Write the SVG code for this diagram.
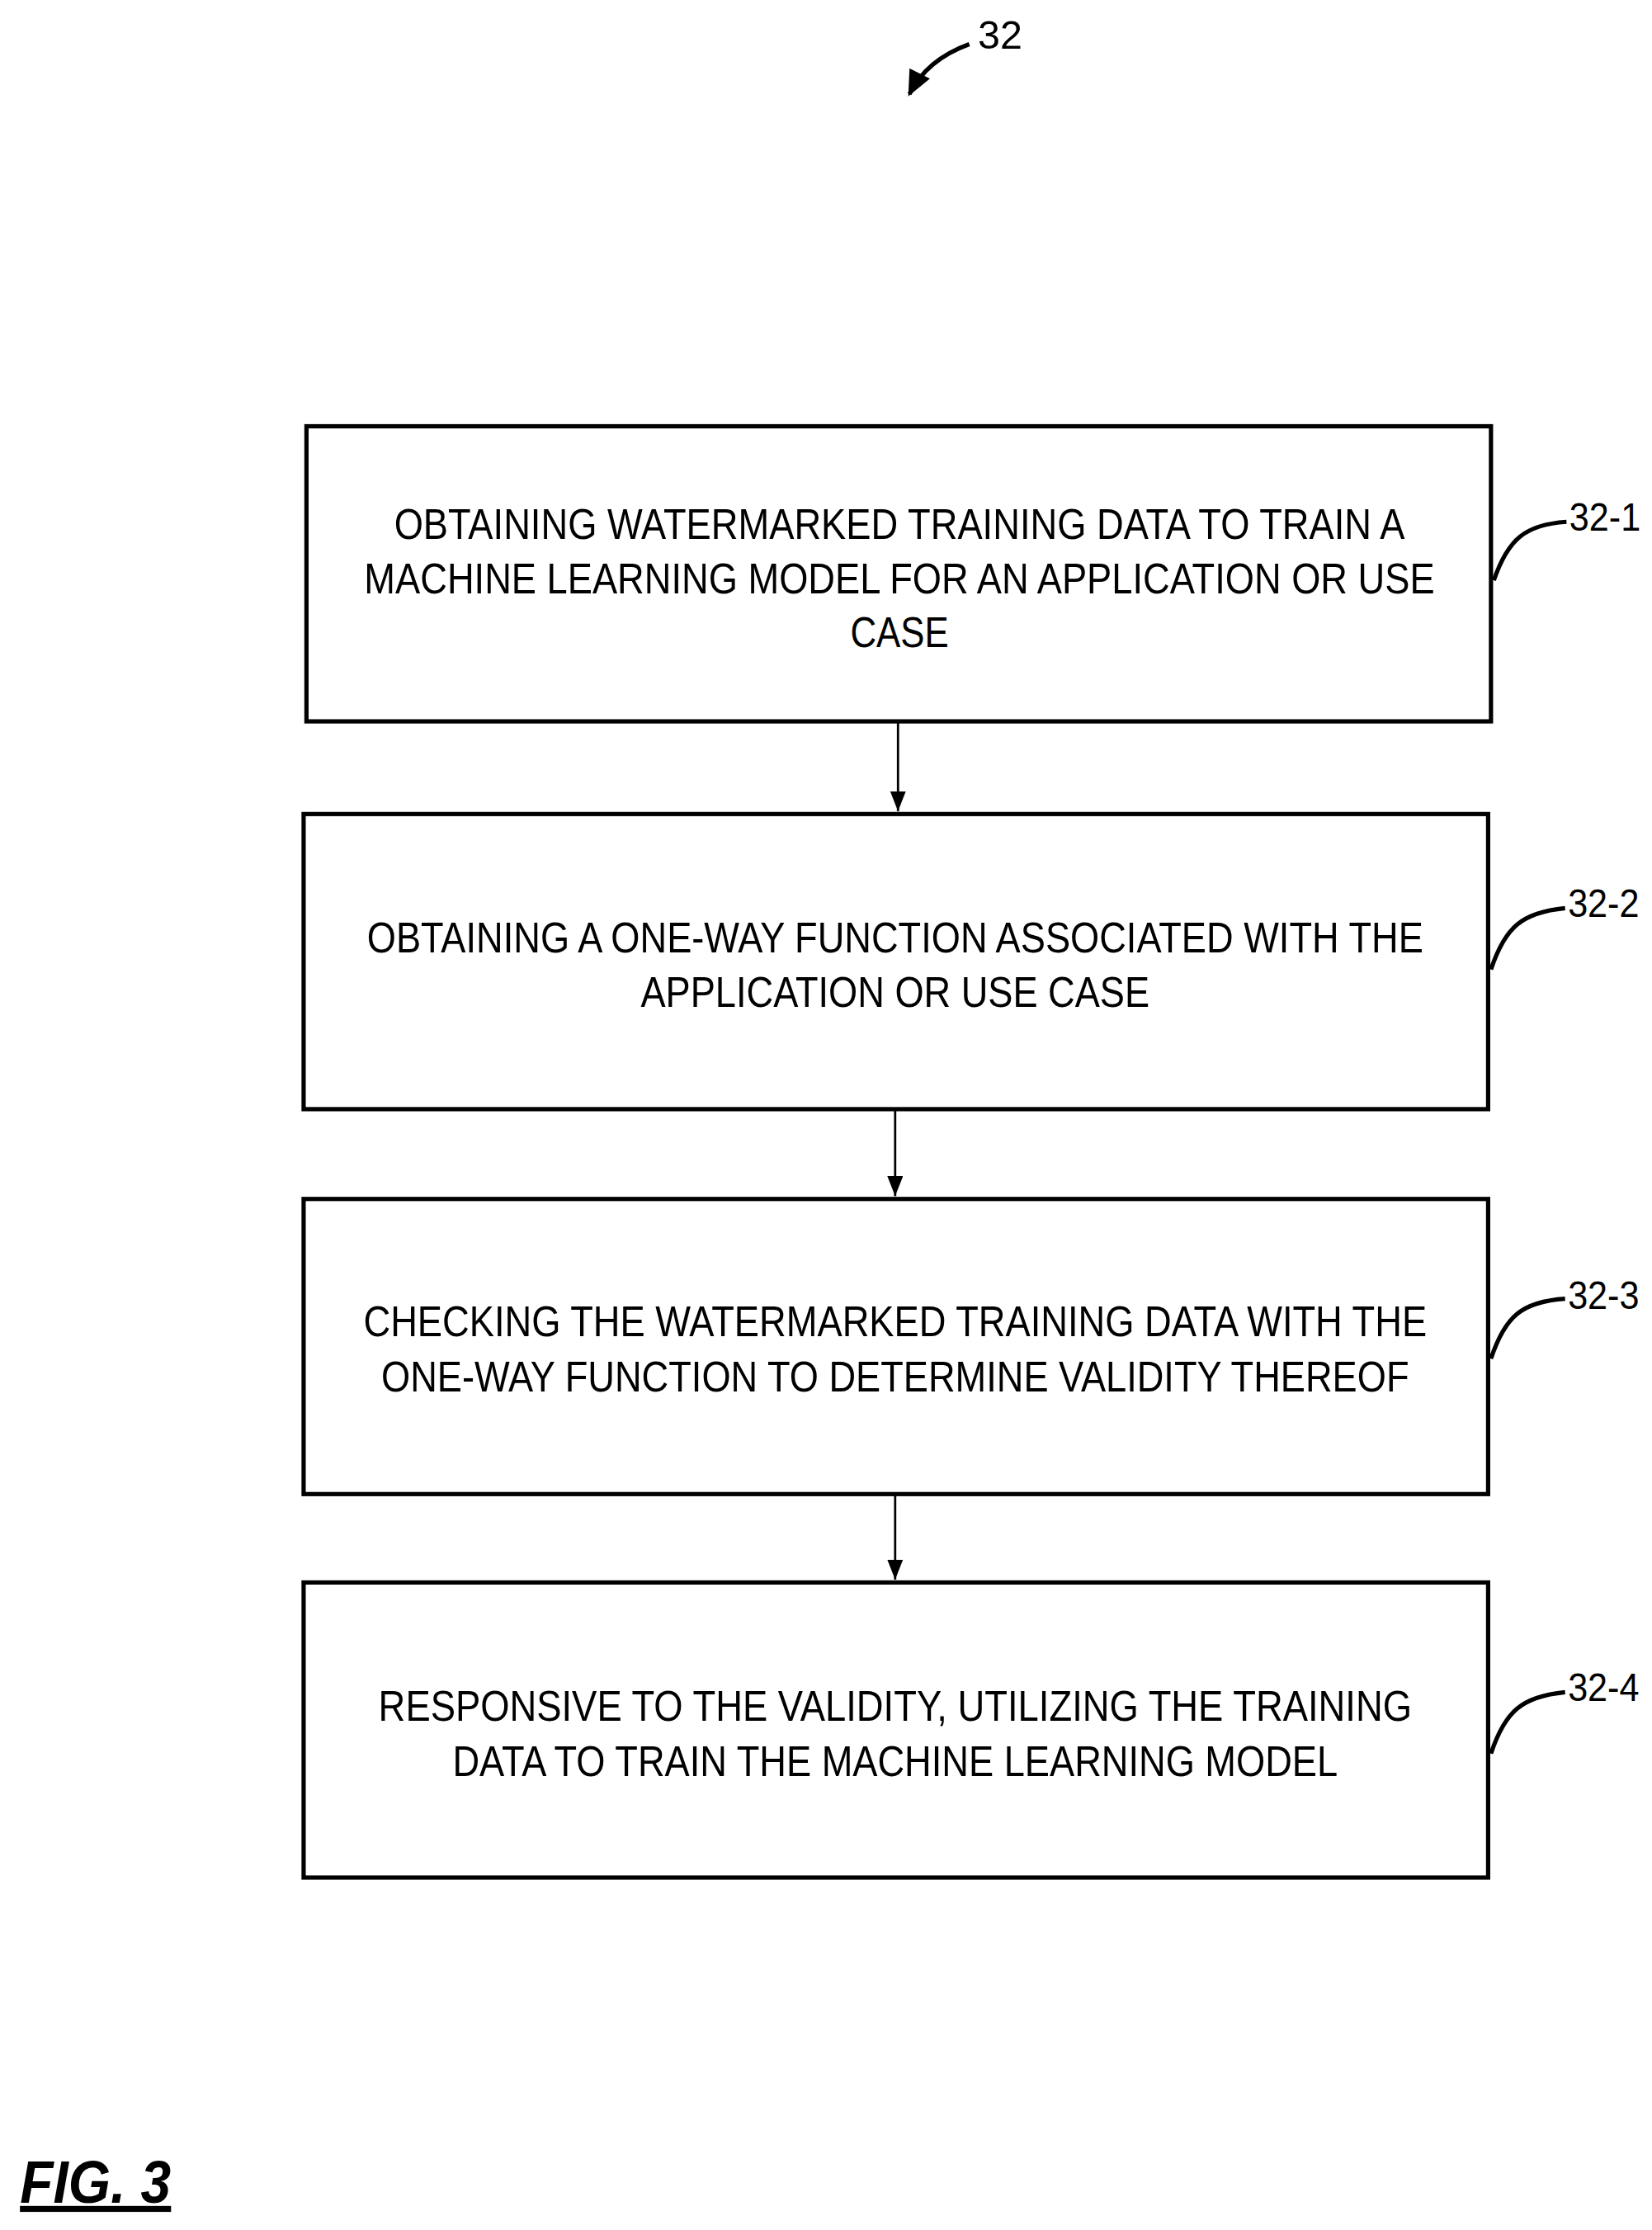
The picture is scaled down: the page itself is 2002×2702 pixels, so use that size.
<svg xmlns="http://www.w3.org/2000/svg" width="2002" height="2702" viewBox="0 0 2002 2702">
<style>
.box{fill:#fff;stroke:#000;stroke-width:3}
.t{font-family:"Liberation Sans",Arial,sans-serif;font-size:30px;fill:#000;text-anchor:middle}
.lbl{font-family:"Liberation Sans",Arial,sans-serif;font-size:28px;fill:#000}
.lead{fill:none;stroke:#000;stroke-width:3}
.conn{stroke:#000;stroke-width:1.6;fill:none}
</style>
<defs>
<marker id="ah" viewBox="0 0 10 10" refX="10" refY="5" markerWidth="14" markerHeight="11" markerUnits="userSpaceOnUse" orient="auto" preserveAspectRatio="none"><path d="M0,0L10,5L0,10z" fill="#000"/></marker>
<marker id="ah2" viewBox="0 0 10 10" refX="9" refY="5" markerWidth="18" markerHeight="16" markerUnits="userSpaceOnUse" orient="auto" preserveAspectRatio="none"><path d="M0,0L10,5L0,10z" fill="#000"/></marker>
</defs>
<rect width="2002" height="2702" fill="#fff"/>
<g transform="scale(1.7274)">
<g id="title">
<text class="lbl" x="686" y="34">32</text>
<path class="lead" d="M680,31 Q650,42 638,66" stroke-width="4" marker-end="url(#ah2)"/>
</g>
<g id="n1">
<rect class="box" x="215" y="299" width="831" height="207"/>
<text class="t" x="631" y="378" textLength="709" lengthAdjust="spacingAndGlyphs">OBTAINING WATERMARKED TRAINING DATA TO TRAIN A</text>
<text class="t" x="631" y="416" textLength="751" lengthAdjust="spacingAndGlyphs">MACHINE LEARNING MODEL FOR AN APPLICATION OR USE</text>
<text class="t" x="631" y="454" textLength="69" lengthAdjust="spacingAndGlyphs">CASE</text>
<text class="lbl" x="1101" y="372" textLength="50" lengthAdjust="spacingAndGlyphs">32-1</text>
<path class="lead" d="M1048,407 C1058,378 1070,368 1099,366"/>
</g>
<g id="n2">
<rect class="box" x="213" y="571" width="831" height="207"/>
<text class="t" x="628" y="668" textLength="741" lengthAdjust="spacingAndGlyphs">OBTAINING A ONE-WAY FUNCTION ASSOCIATED WITH THE</text>
<text class="t" x="628" y="706" textLength="357" lengthAdjust="spacingAndGlyphs">APPLICATION OR USE CASE</text>
<text class="lbl" x="1100" y="643" textLength="50" lengthAdjust="spacingAndGlyphs">32-2</text>
<path class="lead" d="M1046,680 C1056,650 1068,640 1098,637"/>
</g>
<g id="n3">
<rect class="box" x="213" y="841" width="831" height="207"/>
<text class="t" x="628" y="937" textLength="746" lengthAdjust="spacingAndGlyphs">CHECKING THE WATERMARKED TRAINING DATA WITH THE</text>
<text class="t" x="628" y="976" textLength="721" lengthAdjust="spacingAndGlyphs">ONE-WAY FUNCTION TO DETERMINE VALIDITY THEREOF</text>
<text class="lbl" x="1100" y="918" textLength="50" lengthAdjust="spacingAndGlyphs">32-3</text>
<path class="lead" d="M1046,953 C1056,923 1068,913 1098,911"/>
</g>
<g id="n4">
<rect class="box" x="213" y="1110" width="831" height="207"/>
<text class="t" x="628" y="1207" textLength="725" lengthAdjust="spacingAndGlyphs">RESPONSIVE TO THE VALIDITY, UTILIZING THE TRAINING</text>
<text class="t" x="628" y="1246" textLength="621" lengthAdjust="spacingAndGlyphs">DATA TO TRAIN THE MACHINE LEARNING MODEL</text>
<text class="lbl" x="1100" y="1193" textLength="50" lengthAdjust="spacingAndGlyphs">32-4</text>
<path class="lead" d="M1046,1230 C1056,1200 1068,1190 1098,1187"/>
</g>
<g id="connectors">
<line class="conn" x1="630" y1="507" x2="630" y2="569" marker-end="url(#ah)"/>
<line class="conn" x1="628" y1="779" x2="628" y2="839" marker-end="url(#ah)"/>
<line class="conn" x1="628" y1="1049" x2="628" y2="1108" marker-end="url(#ah)"/>
</g>
<g id="fig">
<text x="14" y="1545" font-family="'Liberation Sans',Arial,sans-serif" font-size="42" font-weight="bold" font-style="italic" text-decoration="underline" textLength="106" lengthAdjust="spacingAndGlyphs">FIG. 3</text>
</g>
</g>
</svg>
